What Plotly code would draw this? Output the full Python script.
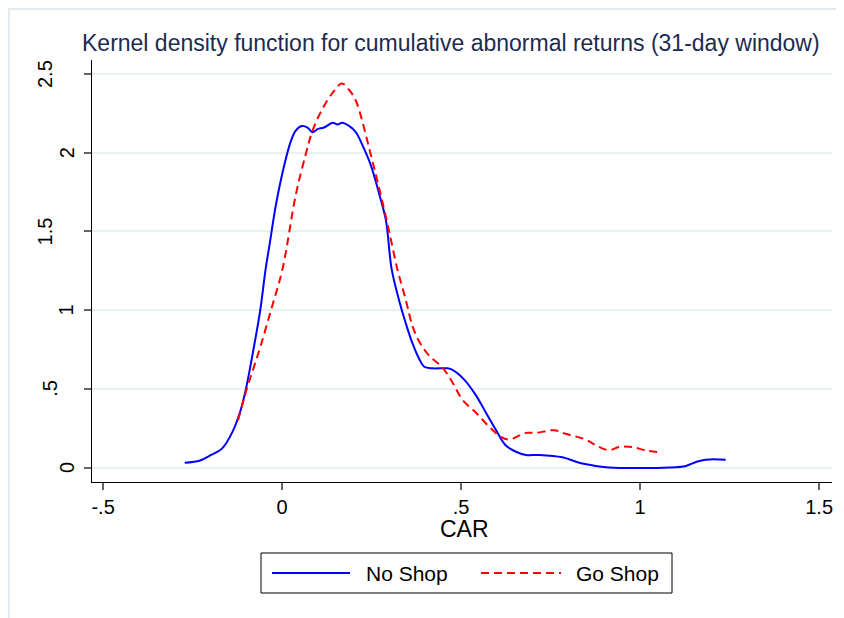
import plotly.graph_objects as go

# kernel density estimates
car_no_shop = [-0.272, -0.229, -0.198, -0.168, -0.138, -0.115, -0.100, -0.080, -0.061, -0.046,
               -0.034, -0.018, 0.006, 0.024, 0.038, 0.055, 0.071, 0.085, 0.099, 0.117,
               0.141, 0.155, 0.168, 0.187, 0.206, 0.224, 0.248, 0.271, 0.290, 0.306,
               0.327, 0.345, 0.364, 0.383, 0.397, 0.420, 0.462, 0.476, 0.508, 0.541,
               0.569, 0.597, 0.625, 0.653, 0.681, 0.718, 0.783, 0.830, 0.876, 0.913,
               1.081, 1.128, 1.156, 1.183, 1.239]
dens_no_shop = [0.03, 0.045, 0.08, 0.12, 0.23, 0.37, 0.51, 0.75, 1.0, 1.26,
                1.43, 1.66, 1.92, 2.07, 2.14, 2.17, 2.16, 2.13, 2.15, 2.16,
                2.19, 2.18, 2.19, 2.17, 2.13, 2.05, 1.92, 1.74, 1.57, 1.26,
                1.06, 0.92, 0.79, 0.69, 0.64, 0.63, 0.63, 0.62, 0.56, 0.46,
                0.35, 0.24, 0.14, 0.10, 0.08, 0.08, 0.065, 0.03, 0.01, 0.0,
                0.0, 0.01, 0.035, 0.05, 0.05]

car_go_shop = [-0.123, -0.100, -0.080, -0.059, -0.031, 0.001, 0.038, 0.066, 0.085, 0.113,
               0.141, 0.167, 0.187, 0.206, 0.224, 0.243, 0.262, 0.280, 0.299, 0.322,
               0.345, 0.364, 0.383, 0.411, 0.448, 0.476, 0.504, 0.541, 0.578, 0.611,
               0.634, 0.681, 0.709, 0.760, 0.792, 0.848, 0.876, 0.913, 0.941, 0.978,
               1.016, 1.058]
dens_go_shop = [0.30, 0.49, 0.63, 0.78, 1.0, 1.26, 1.73, 1.99, 2.14, 2.28,
                2.38, 2.44, 2.40, 2.33, 2.20, 2.03, 1.86, 1.69, 1.50, 1.26,
                1.07, 0.90, 0.80, 0.71, 0.635, 0.54, 0.43, 0.35, 0.26, 0.195,
                0.178, 0.22, 0.22, 0.237, 0.214, 0.178, 0.142, 0.11, 0.13, 0.13,
                0.108, 0.097]

x_ticks = [-0.5, 0, 0.5, 1, 1.5]
x_labels = ["-.5", "0", ".5", "1", "1.5"]
y_ticks = [0, 0.5, 1, 1.5, 2, 2.5]
y_labels = ["0", ".5", "1", "1.5", "2", "2.5"]

FONT = "Arial, Liberation Sans, sans-serif"
BLUE = "#0000ff"
RED = "#ff0000"

# the page body adds 8px, so work in page pixels and take that off
OFF = 8
W, H = 844, 618
L, R, T, B = 92, 832, 60, 482   # plot area in page pixels
def px(x):
    return (x - L) / (R - L)
def py(y):
    return (B - y) / (B - T)

fig = go.Figure()
fig.add_trace(go.Scatter(x=car_no_shop, y=dens_no_shop, mode="lines", name="No Shop",
                         line=dict(color=BLUE, width=2), line_shape="spline"))
fig.add_trace(go.Scatter(x=car_go_shop, y=dens_go_shop, mode="lines", name="Go Shop",
                         line=dict(color=RED, width=2, dash="8px,5px"), line_shape="spline"))

annotations = []
# Stata-style rotated y labels (longer labels sit further left)
for v, lab in zip(y_ticks, y_labels):
    cx = 45 if len(lab) == 3 else (50 if len(lab) == 2 else 66.5)
    annotations.append(dict(x=px(cx), y=v, xref="paper", yref="y", text=lab, textangle=-90,
                            showarrow=False, xanchor="center", yanchor="middle",
                            font=dict(family=FONT, size=20, color="black")))
annotations.append(dict(x=px(465), y=py(529), xref="paper", yref="paper", text="CAR",
                        showarrow=False, xanchor="center", yanchor="middle",
                        font=dict(family=FONT, size=23, color="black")))
annotations.append(dict(x=px(364), y=py(573), xref="paper", yref="paper", text="No Shop",
                        showarrow=False, xanchor="left", yanchor="middle",
                        font=dict(family=FONT, size=21, color="black")))
annotations.append(dict(x=px(574), y=py(573), xref="paper", yref="paper", text="Go Shop",
                        showarrow=False, xanchor="left", yanchor="middle",
                        font=dict(family=FONT, size=21, color="black")))

shapes = [
    # outer graph-region frame (right and bottom edges fall off the page)
    dict(type="rect", xref="paper", yref="paper", x0=px(9), x1=px(950), y0=py(750), y1=py(OFF + 1),
         line=dict(color="#e3ebee", width=2), layer="below"),
    # legend box and keys
    dict(type="rect", xref="paper", yref="paper", x0=px(261), x1=px(672), y0=py(593), y1=py(553),
         line=dict(color="black", width=1), fillcolor="white"),
    dict(type="line", xref="paper", yref="paper", x0=px(272), x1=px(350), y0=py(573), y1=py(573),
         line=dict(color=BLUE, width=2)),
    dict(type="line", xref="paper", yref="paper", x0=px(481), x1=px(561), y0=py(573), y1=py(573),
         line=dict(color=RED, width=2, dash="8px,5px")),
]

fig.update_layout(
    width=W, height=H,
    paper_bgcolor="white", plot_bgcolor="white",
    margin=dict(l=L - OFF, r=W - (R - OFF), t=T - OFF, b=H - (B - OFF)),
    showlegend=False,
    title=dict(text="Kernel density function for cumulative abnormal returns (31-day window)",
               xref="container", x=(82 - OFF) / W, xanchor="left",
               y=1 - (43 - OFF) / H, yanchor="middle",
               font=dict(family=FONT, size=23, color="#1c2b52")),
    annotations=annotations,
    shapes=shapes,
)
fig.update_xaxes(range=[-0.531, 1.536], tickvals=x_ticks, ticktext=x_labels,
                 showgrid=False, zeroline=False, showline=True, linecolor="black", linewidth=1,
                 ticks="outside", ticklen=7, tickcolor="#666", tickwidth=1.5,
                 tickfont=dict(family=FONT, size=20, color="black"))
fig.update_yaxes(range=[-0.092, 2.589], tickvals=y_ticks, showticklabels=False,
                 showgrid=True, gridcolor="#e8f0f2", gridwidth=2, zeroline=False,
                 showline=True, linecolor="black", linewidth=1,
                 ticks="outside", ticklen=7, tickcolor="#666", tickwidth=1.5)

fig.write_html("out.html")
